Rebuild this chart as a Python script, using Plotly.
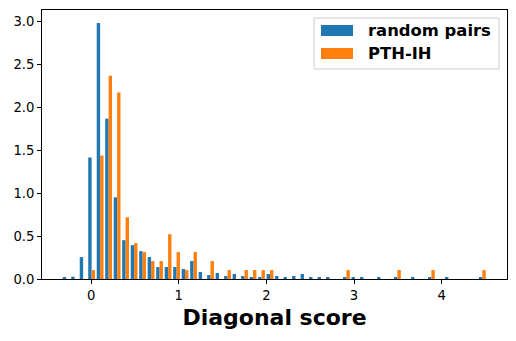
import numpy as np
import plotly.graph_objects as go

# histogram bins (50 equal bins)
BIN_START = -0.333
BIN_WIDTH = 0.0969
N_BINS = 50

# density per bin
random_pairs = [0.015, 0.027, 0.255, 1.414, 2.98, 1.866, 0.95, 0.452, 0.394, 0.324,
                0.255, 0.139, 0.139, 0.139, 0.116, 0.209, 0.081, 0.046, 0.07, 0.035,
                0.058, 0.035, 0.012, 0.023, 0.058, 0.035, 0.023, 0.035, 0.058, 0.023,
                0.023, 0.012, 0.0, 0.012, 0.012, 0.012, 0.0, 0.012, 0.0, 0.012,
                0.0, 0.012, 0.0, 0.012, 0.0, 0.012, 0.0, 0.0, 0.0, 0.012]
pth_ih = [0.0, 0.0, 0.0, 0.104, 1.437, 2.364, 2.17, 0.718, 0.417, 0.313,
          0.209, 0.209, 0.521, 0.313, 0.104, 0.313, 0.0, 0.209, 0.0, 0.104,
          0.0, 0.104, 0.104, 0.104, 0.104, 0.0, 0.0, 0.0, 0.0, 0.0,
          0.0, 0.0, 0.0, 0.104, 0.0, 0.0, 0.0, 0.0, 0.0, 0.104,
          0.0, 0.0, 0.0, 0.104, 0.0, 0.0, 0.0, 0.0, 0.0, 0.104]

series_names = ["random pairs", "PTH-IH"]
colors = ["#1f77b4", "#ff7f0e"]

centers = BIN_START + BIN_WIDTH * (np.arange(N_BINS) + 0.5)

fig = go.Figure()
for name, vals, c in zip(series_names, [random_pairs, pth_ih], colors):
    fig.add_trace(go.Bar(x=centers, y=vals, name=name, marker_color=c,
                         marker_line_width=0, width=BIN_WIDTH * 0.4,
                         showlegend=False))

# plot area in pixels: x 42..507, y 10..279
W, H = 516, 341
L, R, T, B = 42, 9, 10, 62
pw, ph = W - L - R, H - T - B


def px(x):
    return (x - L) / pw


def py(y):
    return (H - B - y) / ph


shapes = [
    dict(type="rect", xref="paper", yref="paper", x0=px(314), x1=px(499), y0=py(69), y1=py(18),
         line=dict(color="#cccccc", width=1), fillcolor="rgba(255,255,255,0.8)"),
]
annotations = []
for i, (name, c) in enumerate(zip(series_names, colors)):
    top = 25 + i * 23
    shapes.append(dict(type="rect", xref="paper", yref="paper", x0=px(321), x1=px(353),
                       y0=py(top + 11), y1=py(top), line=dict(width=0), fillcolor=c))
    annotations.append(dict(x=px(366), y=py(top + 5.5), xref="paper", yref="paper",
                            text="<b>%s</b>" % name, showarrow=False, xanchor="left",
                            yanchor="middle", font=dict(size=16.4, color="black")))

fig.update_layout(
    width=W, height=H,
    margin=dict(l=L, r=R, t=T, b=B),
    barmode="group",
    plot_bgcolor="white", paper_bgcolor="white",
    font=dict(family="DejaVu Sans", size=13.2, color="black"),
    shapes=shapes, annotations=annotations,
    xaxis=dict(range=[-0.56, 4.745], dtick=1, tick0=0, showgrid=False, zeroline=False,
               showline=True, mirror=True, linecolor="black", linewidth=1,
               ticks="outside", ticklen=4, tickcolor="black",
               title=dict(text="<b>Diagonal score</b>", font=dict(size=22), standoff=7)),
    yaxis=dict(range=[0, 3.13], dtick=0.5, tick0=0, tickformat=".1f", showgrid=False,
               zeroline=False, showline=True, mirror=True, linecolor="black", linewidth=1,
               ticks="outside", ticklen=4, tickcolor="black"),
)

# the page body has a default margin; remove it so the figure sits at 0,0
fig.write_html("out.html", config={"displayModeBar": False},
               post_script="document.body.style.margin='0';")
